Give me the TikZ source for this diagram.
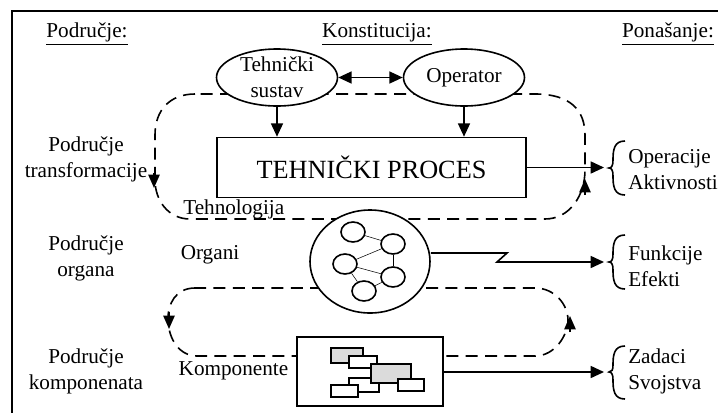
\documentclass[tikz,border=0pt]{standalone}
\usepackage{fontspec}
\setmainfont{Liberation Serif}
\usetikzlibrary{arrows.meta,shapes.geometric}
\tikzset{
  arrow/.style={-{Triangle[length=10pt,width=9pt]},line width=1.2pt},
  twoway/.style={{Triangle[length=10pt,width=9pt]}-{Triangle[length=10pt,width=9pt]},line width=1.2pt},
  loopline/.style={dash pattern=on 9pt off 5.5pt,line width=1.2pt},
  looparrow/.style={-{Triangle[length=10pt,width=8.5pt]},line width=1.2pt},
  bracket/.style={line width=1.2pt},
  txt/.style={font=\fontsize{15.9}{19.5}\selectfont,inner sep=0pt,align=center},
  part/.style={draw,fill=white,line width=1.2pt,inner sep=0pt},
  organ/.style={part,ellipse,minimum width=18pt,minimum height=15pt},
  block/.style={part,rectangle,anchor=north west},
}
\begin{document}
\begin{tikzpicture}[x=0.75pt,y=-0.75pt]
  \useasboundingbox (0,0) rectangle (718,412);
  \node [draw,line width=1.4pt,minimum width=720*0.75pt,minimum height=415*0.75pt,anchor=north west] (frame) at (11,10) {};
  \node [txt] (podrucje) at (87,34) {\underline{Područje:}};
  \node [txt] (konst) at (377,34) {\underline{Konstitucija:}};
  \node [txt] (ponas) at (668,34) {\underline{Ponašanje:}};
  \node [txt] (ptrans) at (86,159) {Područje\\transformacije};
  \node [txt] (porg) at (86,258) {Područje\\organa};
  \node [txt] (pkomp) at (86,371) {Područje\\komponenata};
  % dashed loops
  \draw [loopline] (195,94) .. controls (170,94) and (155,110) .. (155,135) -- (155,180) .. controls (155,200) and (168,219) .. (190,219) -- (545,219) .. controls (570,219) and (585,195) .. (585,170) -- (585,135) .. controls (585,110) and (570,94) .. (535,94) -- cycle;
  \draw [loopline] (195,288) .. controls (175,288) and (168,305) .. (168,318) .. controls (168,340) and (180,356) .. (197,356) -- (535,356) .. controls (555,356) and (568,335) .. (568,320) .. controls (568,305) and (555,288) .. (535,288) -- cycle;
  \coordinate (d1a) at (154,173);
  \coordinate (d1b) at (154,188);
  \draw [looparrow] (d1a) -- (d1b);
  \coordinate (d2a) at (585,195);
  \coordinate (d2b) at (585,179);
  \draw [looparrow] (d2a) -- (d2b);
  \coordinate (d3a) at (169,312);
  \coordinate (d3b) at (169,329);
  \draw [looparrow] (d3a) -- (d3b);
  \coordinate (d4a) at (570,332);
  \coordinate (d4b) at (570,316);
  \draw [looparrow] (d4a) -- (d4b);
  % top row
  \node [part,ellipse,minimum width=121*0.75pt,minimum height=57*0.75pt] (sustav) at (277,77.5) {};
  \node [txt] (sustavlbl) at (sustav) {Tehnički\\sustav};
  \node [part,ellipse,minimum width=121*0.75pt,minimum height=57*0.75pt,font=\fontsize{15.9}{19.5}\selectfont] (operator) at (464,77.5) {Operator};
  \draw [twoway] (sustav) -- (operator);
  \node [part,minimum width=309*0.75pt,minimum height=60*0.75pt] (proces) at (371.5,167.5) {};
  \node [font=\fontsize{19.7}{22}\selectfont,inner sep=0pt] (proceslbl) at (proces) {TEHNIČKI PROCES};
  \draw [arrow] (sustav) -- (sustav |- proces.north);
  \draw [arrow] (operator) -- (operator |- proces.north);
  \node [txt,anchor=west] (tehn) at (183,209) {Tehnologija};
  % organs
  \node [part,ellipse,minimum width=120*0.75pt,minimum height=103*0.75pt] (organi) at (370,261.5) {};
  \node [txt] (organilbl) at (210,255) {Organi};
  \node [organ] (o1) at (353,232) {};
  \node [organ] (o2) at (393,244) {};
  \node [organ] (o3) at (345,264) {};
  \node [organ] (o4) at (393,277) {};
  \node [organ] (o5) at (364,291) {};
  \draw (o1) -- (o2);
  \draw (o2) -- (o3);
  \draw (o2) -- (o4);
  \draw (o3) -- (o4);
  \draw (o3) -- (o5);
  \draw (o4) -- (o5);
  % components
  \node [part,minimum width=146*0.75pt,minimum height=69*0.75pt] (komp) at (370,371.5) {};
  \node [txt] (komplbl) at (233.5,371) {Komponente};
  \node [block,minimum width=32*0.75pt,minimum height=15*0.75pt,fill=gray!28] (b1) at (330,347) {};
  \node [block,minimum width=28*0.75pt,minimum height=12*0.75pt] (b2) at (348,355) {};
  \node [block,minimum width=30*0.75pt,minimum height=14*0.75pt] (b3) at (348,377) {};
  \node [block,minimum width=27*0.75pt,minimum height=12*0.75pt] (b4) at (330,384) {};
  \node [block,minimum width=40*0.75pt,minimum height=19*0.75pt,fill=gray!28] (b5) at (370,363) {};
  \node [block,minimum width=26*0.75pt,minimum height=12*0.75pt] (b6) at (397,378) {};
  % braces
  \node [txt,align=left,anchor=west] (beh1) at (628,169.5) {Operacije\\Aktivnosti};
  \node [txt,align=left,anchor=west] (beh2) at (628,266) {Funkcije\\Efekti};
  \node [txt,align=left,anchor=west] (beh3) at (628,371.5) {Zadaci\\Svojstva};
  \coordinate (c1) at (604,167.5);
  \coordinate (c2) at (604,262);
  \coordinate (c3) at (604,372);
  \draw [bracket] (625,141) .. controls (614,141) and (613,150) .. (613,160) .. controls (613,165) and (612,168) .. (609,168) .. controls (612,168) and (613,171) .. (613,176) .. controls (613,186) and (614,195) .. (625,195);
  \draw [bracket] (625,235) .. controls (614,235) and (613,244) .. (613,254) .. controls (613,259) and (612,262) .. (609,262) .. controls (612,262) and (613,265) .. (613,270) .. controls (613,280) and (614,289) .. (625,289);
  \draw [bracket] (625,346) .. controls (614,346) and (613,355) .. (613,365) .. controls (613,370) and (612,372) .. (609,372) .. controls (612,372) and (613,375) .. (613,380) .. controls (613,390) and (614,399) .. (625,399);
  \coordinate (bend1) at (507,253);
  \coordinate (bend2) at (497,262);
  \draw [arrow] (proces.east) -- (c1);
  \draw [arrow] (organi.east |- bend1) -- (bend1) -- (bend2) -- (c2);
  \draw [arrow] (komp.east |- c3) -- (c3);
\end{tikzpicture}
\end{document}
